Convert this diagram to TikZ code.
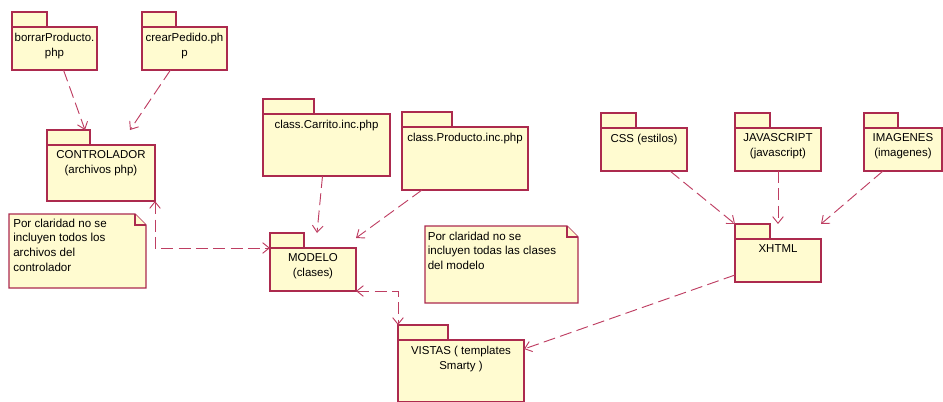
\documentclass[tikz,border=0pt]{standalone}
\usepackage{fontspec}
\setmainfont{Liberation Sans}
\usetikzlibrary{arrows.meta}

\newlength\px
\setlength\px{0.75pt}

\definecolor{pkgline}{RGB}{172,42,78}
\definecolor{pkgfill}{RGB}{255,251,208}
\definecolor{depline}{RGB}{190,62,98}

% package: name, x, y (top left of body), width, height, tab width, text
\newcommand{\paquete}[7]{%
  \node[pkgbody, minimum width=#4\px, minimum height=#5\px] (#1) at (#2,#3) {};
  \node[pkgtab, minimum width=#6\px] (#1-tab) at (#1.north west) {};
  \node[pkgtext] (#1-txt) at ([yshift=-5.5\px]#1.north) {#7};
}

\begin{document}
\begin{tikzpicture}[x=\px, y=-\px,
    pkgbody/.style={draw=pkgline, fill=pkgfill, line width=0.9pt, anchor=north west, inner sep=0pt, outer sep=0pt},
    pkgtab/.style={pkgbody, anchor=south west, minimum height=15\px},
    pkgtext/.style={font=\fontsize{8.6pt}{11.25pt}\selectfont, align=center, inner sep=0pt, anchor=north},
    notebody/.style={anchor=north west, inner sep=0pt, outer sep=0pt},
    notetext/.style={font=\fontsize{8.7pt}{11pt}\selectfont, align=left, inner sep=0pt, anchor=north west},
    noteline/.style={draw=pkgline, fill=pkgfill, line width=0.9pt, line join=miter},
    dep/.style={draw=depline, line width=0.7pt, dash pattern=on 9pt off 4pt, ->},
    >={Straight Barb[length=5pt,width=8pt]}]
  \useasboundingbox (0,0) rectangle (943,401);

  % Controller files
  \paquete{borrar}{12}{27}{85}{43}{35}{borrarProducto.\\php}
  \paquete{crear}{142}{27}{85}{43}{34}{crearPedido.ph\\p}
  \paquete{ctrl}{47}{145}{108}{56}{43}{CONTROLADOR\\(archivos php)}

  % Model classes
  \paquete{carrito}{263}{114}{127}{62}{51}{class.Carrito.inc.php}
  \paquete{producto}{402}{127}{126}{63}{50}{class.Producto.inc.php}
  \paquete{modelo}{270}{248}{86}{43}{34}{MODELO\\(clases)}

  % Views
  \paquete{vistas}{398}{340}{126}{62}{50}{VISTAS ( templates\\Smarty )}
  \paquete{css}{601}{128}{86}{43}{35}{CSS (estilos)}
  \paquete{js}{735}{128}{86}{43}{35}{JAVASCRIPT\\(javascript)}
  \paquete{img}{864}{128}{78}{43}{34}{IMAGENES\\(imagenes)}
  \paquete{xhtml}{735}{239}{86}{43}{35}{XHTML}

  % Notes
  \node[notebody, minimum width=137\px, minimum height=74\px] (nota1) at (9,214) {};
  \draw[noteline] (nota1.north west) -- ([xshift=-11\px]nota1.north east) -- ([yshift=-11\px]nota1.north east) -- (nota1.south east) -- (nota1.south west) -- cycle;
  \draw[noteline] ([xshift=-11\px]nota1.north east) -- ([xshift=-11\px,yshift=-11\px]nota1.north east) -- ([yshift=-11\px]nota1.north east);
  \node[notetext] (nota1-txt) at ([xshift=4\px,yshift=-4.5\px]nota1.north west) {Por claridad no se\\incluyen todos los\\archivos del\\controlador};

  \node[notebody, minimum width=153\px, minimum height=77\px] (nota2) at (425,226) {};
  \draw[noteline] (nota2.north west) -- ([xshift=-11\px]nota2.north east) -- ([yshift=-11\px]nota2.north east) -- (nota2.south east) -- (nota2.south west) -- cycle;
  \draw[noteline] ([xshift=-11\px]nota2.north east) -- ([xshift=-11\px,yshift=-11\px]nota2.north east) -- ([yshift=-11\px]nota2.north east);
  \node[notetext] (nota2-txt) at ([xshift=2.5\px,yshift=-5.5\px]nota2.north west) {Por claridad no se\\incluyen todas las clases\\del modelo};

  % Dependencies to the controller
  \draw[dep] ([xshift=9\px]borrar.south) -- ([xshift=-5\px]ctrl-tab.north east);
  \draw[dep] ([xshift=-14\px]crear.south) -- ([xshift=-25\px,yshift=15\px]ctrl.north east);
  \draw[dep, <->] (ctrl.south east) |- (modelo.north west);

  % Dependencies to the model
  \draw[dep] ([xshift=-4\px]carrito.south) -- ([xshift=-39\px,yshift=15\px]modelo.north east);
  \draw[dep] ([xshift=20\px]producto.south west) -- ([yshift=10\px]modelo.north east);
  \draw[dep, <->] (modelo.south east) -| (vistas-tab.north west);

  % Dependencies to the views
  \draw[dep] ([xshift=26\px]css.south) -- (xhtml-tab.north west);
  \draw[dep] (js.south) -- (js.south |- xhtml-tab.north);
  \draw[dep] ([xshift=-20\px]img.south) -- ([yshift=15\px]xhtml.north east);
  \draw[dep] ([yshift=7\px]xhtml.south west) -- ([yshift=-9\px]vistas.north east);
\end{tikzpicture}
\end{document}
